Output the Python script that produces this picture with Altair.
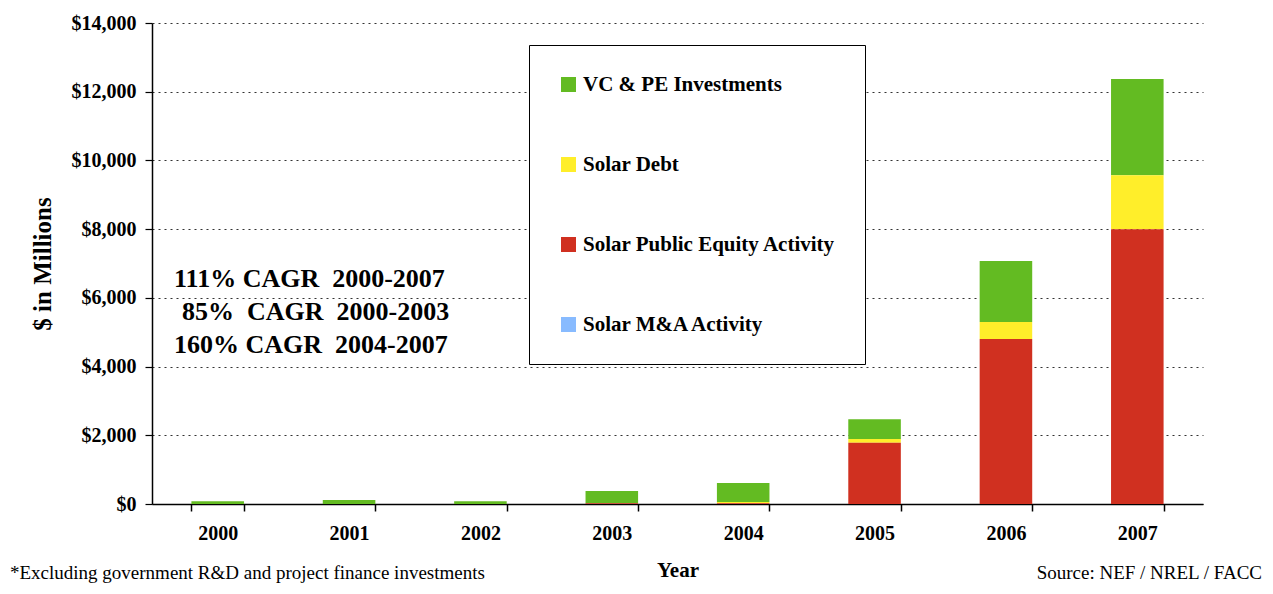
import altair as alt
import pandas as pd

years = ["2000", "2001", "2002", "2003", "2004", "2005", "2006", "2007"]
series = ["VC & PE Investments", "Solar Debt", "Solar Public Equity Activity", "Solar M&A Activity"]
colors = ["#63BB22", "#FFEE2A", "#D03020", "#88BBFF"]
stack_rank = [3, 2, 1, 0]  # bottom = 0

vc_pe = [80, 120, 80, 360, 550, 580, 1770, 2800]
debt = [0, 0, 0, 0, 40, 110, 500, 1570]
public_equity = [0, 0, 0, 20, 20, 1780, 4800, 8000]
m_and_a = [0, 0, 0, 0, 0, 0, 0, 0]

cagr_lines = ["111% CAGR\u00a0\u00a02000-2007", "85%\u00a0\u00a0CAGR\u00a0\u00a02000-2003", "160% CAGR\u00a0\u00a02004-2007"]
footnote = "*Excluding government R&D and project finance investments"
source = "Source: NEF / NREL / FACC"

rows = []
for name, vals, rank in zip(series, [vc_pe, debt, public_equity, m_and_a], stack_rank):
    for y, v in zip(years, vals):
        rows.append({"Year": y, "Series": name, "Value": v, "Rank": rank})
df = pd.DataFrame(rows)

SERIF = "Liberation Serif"
W, H = 1051, 481

bars = alt.Chart(df).mark_bar().encode(
    x=alt.X("Year:N", sort=years,
            scale=alt.Scale(paddingInner=0.6, paddingOuter=0.3),
            axis=alt.Axis(title="Year", labelAngle=0, tickBand="extent", grid=False,
                          labelFont=SERIF, labelFontSize=20, labelFontWeight="bold", labelColor="black",
                          labelPadding=12, tickSize=7, tickColor="black", domainColor="black",
                          domainWidth=1.5, tickWidth=1.5,
                          titleFont=SERIF, titleFontSize=21, titleFontWeight="bold", titleColor="black",
                          titlePadding=16)),
    y=alt.Y("Value:Q", stack="zero",
            scale=alt.Scale(domain=[0, 14000], nice=False),
            axis=alt.Axis(title="$ in Millions", values=list(range(0, 14001, 2000)),
                          format="$,.0f", labelFont=SERIF, labelFontSize=20, labelFontWeight="bold",
                          labelColor="black", labelPadding=9, tickSize=7, tickColor="black",
                          domainColor="black", domainWidth=1.5, tickWidth=1.2,
                          grid=True, gridColor="#333333", gridDash=[2, 4], gridWidth=1.2,
                          titleFont=SERIF, titleFontSize=25, titleFontWeight="bold", titleColor="black",
                          titleX=-110, titleY=H / 2, titleAngle=-90, titleAlign="center",
                          titleBaseline="middle")),
    color=alt.Color("Series:N",
                    scale=alt.Scale(domain=series, range=colors),
                    legend=alt.Legend(title=None, orient="none", legendX=377, legendY=22,
                                      symbolType="square", symbolSize=225, symbolStrokeWidth=0,
                                      labelFont=SERIF, labelFontSize=21, labelFontWeight="bold",
                                      labelColor="black", labelOffset=4, labelLimit=400,
                                      rowPadding=58, padding=29, strokeColor="black",
                                      fillColor="white", symbolOpacity=1)),
    order=alt.Order("Rank:Q", sort="ascending"),
)

one = pd.DataFrame({"t": [0]})
text_style = dict(font=SERIF, fontSize=26, fontWeight="bold", color="black", align="left",
                  baseline="alphabetic")
cagr1 = alt.Chart(one).mark_text(**text_style).encode(
    x=alt.value(22), y=alt.value(264), text=alt.value(cagr_lines[0]))
cagr2 = alt.Chart(one).mark_text(**text_style).encode(
    x=alt.value(30), y=alt.value(297), text=alt.value(cagr_lines[1]))
cagr3 = alt.Chart(one).mark_text(**text_style).encode(
    x=alt.value(22), y=alt.value(330), text=alt.value(cagr_lines[2]))

foot = alt.Chart(one).mark_text(
    font=SERIF, fontSize=19, color="black", align="left", baseline="alphabetic",
).encode(x=alt.value(-142), y=alt.value(556), text=alt.value(footnote))

src = alt.Chart(one).mark_text(
    font=SERIF, fontSize=19, color="black", align="right", baseline="alphabetic",
).encode(x=alt.value(1110), y=alt.value(556), text=alt.value(source))

chart = alt.layer(bars, cagr1, cagr2, cagr3, foot, src).properties(
    width=W, height=H,
    autosize=alt.AutoSizeParams(type="none"),
    padding={"left": 144, "top": 15, "right": 60, "bottom": 81},
    background="white",
).configure_view(stroke=None)

chart.save("out.html", embed_options={"renderer": "svg", "actions": False})
